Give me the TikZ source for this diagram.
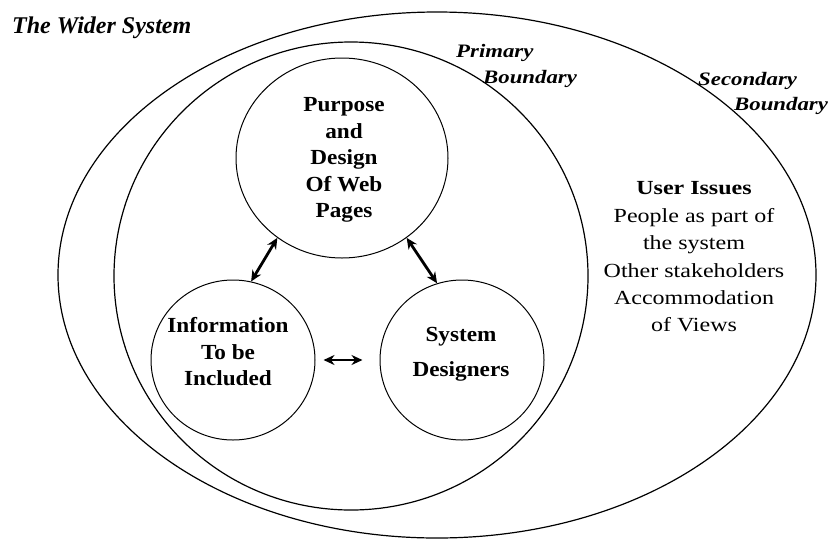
\documentclass[tikz,border=0pt]{standalone}
\usepackage{fontspec}
\setmainfont{Liberation Serif}
\newfontfamily\wideserif[FakeStretch=1.2]{Liberation Serif}
\newfontfamily\midserif[FakeStretch=1.08]{Liberation Serif}
\usetikzlibrary{arrows.meta,shapes.geometric}
\begin{document}
\begin{tikzpicture}[x=1pt,y=-1pt,
  bound/.style={draw, line width=1.2pt},
  topic/.style={draw, ellipse, line width=1pt, inner sep=0pt},
  ctext/.style={font=\midserif\bfseries\fontsize{21.5}{26.5}\selectfont, align=center, inner sep=0pt},
  link/.style={{Stealth[length=11pt,width=10pt]}-{Stealth[length=11pt,width=10pt]}, line width=2.8pt},
  lab/.style={font=\wideserif\bfseries\itshape\fontsize{19}{23}\selectfont, inner sep=0pt, anchor=base west}
]
\useasboundingbox (0,0) rectangle (832,539);
\draw[bound] (437,275) ellipse [x radius=379pt, y radius=263pt];
\draw[bound] (351,276) ellipse [x radius=237pt, y radius=234pt];

\node[topic, minimum width=212pt, minimum height=200pt] (p) at (342,158) {};
\node[topic, minimum width=164pt, minimum height=160pt] (l) at (233,360) {};
\node[topic, minimum width=164pt, minimum height=160pt] (r) at (462,360) {};

\node[ctext] (pt) at (344,160) {Purpose\\and\\Design\\Of Web\\Pages};
\node[ctext] (lt) at (228,352) {Information\\To be\\Included};
\node[ctext, font=\midserif\bfseries\fontsize{21.5}{35}\selectfont] (rt) at (461,354) {System\\Designers};

\draw[link] (l.77) -- (p.231);
\draw[link] (p.309) -- (r.108);
\draw[link, shorten <=8pt, shorten >=17pt] (l.east) -- (r.west);

\node[font=\wideserif\fontsize{20}{27.4}\selectfont, align=center, inner sep=0pt] (ui) at (694,257)
  {\textbf{User Issues}\\People as part of\\the system\\Other stakeholders\\Accommodation\\of Views};

\node[font=\bfseries\itshape\fontsize{24}{28}\selectfont, anchor=base west, inner sep=0pt] (w) at (12,33) {The Wider System};
\node[lab] (pr1) at (456,57) {Primary};
\node[lab] (pr2) at (483,83) {Boundary};
\node[lab] (se1) at (698,85) {Secondary};
\node[lab] (se2) at (734,110) {Boundary};
\end{tikzpicture}
\end{document}
